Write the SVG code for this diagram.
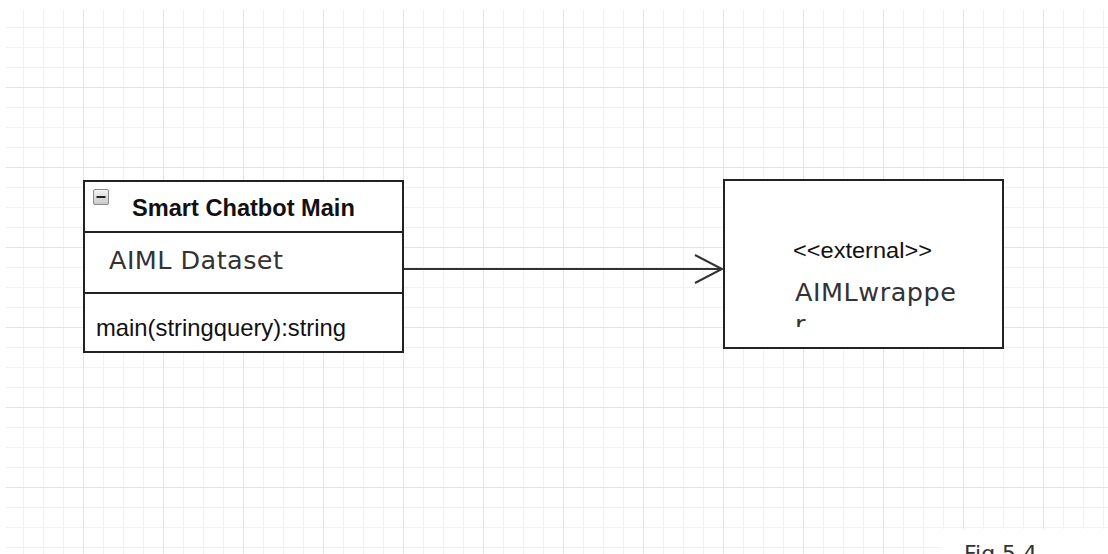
<svg xmlns="http://www.w3.org/2000/svg" width="1108" height="554" viewBox="0 0 1108 554">
  <style>
    .box { fill: #ffffff; stroke: #222222; stroke-width: 2; }
    .sep { stroke: #222222; stroke-width: 2; }
    .sans { font-family: "Liberation Sans", Arial, sans-serif; fill: #111111; }
    .dv { font-family: "DejaVu Sans", Verdana, sans-serif; fill: #333333; }
    .edge { stroke: #333333; stroke-width: 2; fill: none; }
  </style>
  <defs>
    <pattern id="grid" patternUnits="userSpaceOnUse" x="3" y="7" width="80" height="80">
      <rect width="80" height="80" fill="#ffffff"/>
      <g fill="#f1f1f1">
        <rect x="20" y="0" width="1" height="80"/>
        <rect x="40" y="0" width="1" height="80"/>
        <rect x="60" y="0" width="1" height="80"/>
        <rect x="0" y="20" width="80" height="1"/>
        <rect x="0" y="40" width="80" height="1"/>
        <rect x="0" y="60" width="80" height="1"/>
      </g>
      <g fill="#e4e4e4">
        <rect x="0" y="0" width="1" height="80"/>
        <rect x="0" y="0" width="80" height="1"/>
      </g>
    </pattern>
    <linearGradient id="btn" x1="0" y1="0" x2="0" y2="1">
      <stop offset="0" stop-color="#f4f4f4"/>
      <stop offset="1" stop-color="#c9c9c9"/>
    </linearGradient>
    <clipPath id="wrapClip">
      <rect x="724" y="180" width="279" height="147"/>
    </clipPath>
  </defs>

  <!-- canvas -->
  <rect width="1108" height="554" fill="#ffffff"/>
  <rect x="6" y="10" width="1102" height="544" fill="url(#grid)"/>
  <rect x="942" y="529" width="166" height="25" fill="#ffffff"/>

  <!-- connectors -->
  <g id="connectors">
    <line class="edge" x1="403" y1="269" x2="722" y2="269"/>
    <polyline class="edge" points="695,255 722,269 695,283"/>
  </g>

  <!-- class node -->
  <g id="smart-chatbot-main">
    <rect class="box" x="84" y="181" width="319" height="171"/>
    <line class="sep" x1="84" y1="232" x2="403" y2="232"/>
    <line class="sep" x1="84" y1="293" x2="403" y2="293"/>
    <rect x="93.5" y="189.5" width="15" height="15" rx="1.5" fill="url(#btn)" stroke="#8a8a8a" stroke-width="1"/>
    <line x1="96.5" y1="197" x2="105.5" y2="197" stroke="#222222" stroke-width="2"/>
    <text class="sans" x="132" y="216" font-size="23.6" font-weight="bold">Smart Chatbot Main</text>
    <text class="dv" x="109" y="269" font-size="25.5" textLength="174" lengthAdjust="spacing">AIML Dataset</text>
    <text class="sans" x="96" y="336" font-size="23.8" fill="#222222">main(stringquery):string</text>
  </g>

  <!-- external node -->
  <g id="aiml-wrapper">
    <rect class="box" x="724" y="180" width="279" height="168"/>
    <text class="sans" x="793" y="258" font-size="21.5" textLength="139" lengthAdjust="spacingAndGlyphs">&lt;&lt;external&gt;&gt;</text>
    <text class="dv" x="795" y="301" font-size="25.5" textLength="161" lengthAdjust="spacing">AIMLwrappe</text>
    <text class="dv" x="795" y="333" font-size="25.5" clip-path="url(#wrapClip)">r</text>
  </g>

  <!-- caption -->
  <text class="dv" x="964" y="561" font-size="22" fill="#111111">Fig 5.4</text>
</svg>
